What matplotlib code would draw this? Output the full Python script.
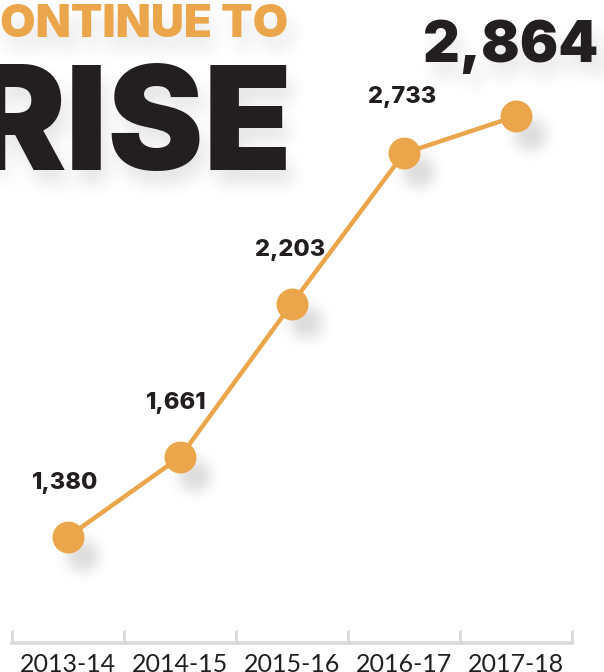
import numpy as np
import matplotlib
matplotlib.use("Agg")
import matplotlib.pyplot as plt

# Data
years = ["2013-14", "2014-15", "2015-16", "2016-17", "2017-18"]
counts = [1380, 1661, 2203, 2733, 2864]
value_labels = ["1,380", "1,661", "2,203", "2,733", "2,864"]

ORANGE = "#EBA64C"
INK = "#231F20"
GRID = "#D9D9D9"
HEAD = "Inter"
BODY = "Lato"

W, H = 604, 672
x = np.arange(len(years))


def new_canvas():
    fig = plt.figure(figsize=(W / 100, H / 100), dpi=100)
    fig.patch.set_facecolor("white")
    ax = fig.add_axes([12 / W, 29 / H, 560 / W, 643 / H])
    ax.set_xlim(-0.5, len(years) - 0.5)
    ax.set_ylim(1005, 3274)
    ax.set_facecolor("none")
    ax.axis("off")
    return fig, ax


def draw_markers(ax, color, line=True):
    ax.plot(x, counts, color=color, linewidth=3.2 if line else 0,
            linestyle="-" if line else "none", marker="o", markersize=23,
            markerfacecolor=color, markeredgecolor="none", zorder=3)


def draw_headline(fig, ax, color_main, color_accent):
    fig.text(0 / W, 1 - 37 / H, "ONTINUE TO", ha="left", va="baseline",
             fontsize=33, fontweight="black", family=HEAD, color=color_accent)
    fig.text(292 / W, 1 - 170 / H, "RISE", ha="right", va="baseline",
             fontsize=104, fontweight="black", family=HEAD, color=color_main)
    ax.annotate(value_labels[4], xy=(x[4], counts[4]), xytext=(-5, 54),
                textcoords="offset pixels", ha="center", va="baseline",
                fontsize=41, fontweight="black", family=HEAD, color=color_main,
                zorder=4, annotation_clip=False)


def blur(a, sigma):
    def kmat(n):
        i = np.arange(n)
        k = np.exp(-0.5 * ((i[:, None] - i[None, :]) / sigma) ** 2)
        return k / k.sum(axis=1, keepdims=True)
    return kmat(a.shape[0]) @ a @ kmat(a.shape[1]).T


def shift(a, dx, dy):
    out = np.zeros_like(a)
    out[dy:, dx:] = a[:a.shape[0] - dy, :a.shape[1] - dx]
    return out


def coverage(draw):
    fig, ax = new_canvas()
    draw(fig, ax)
    fig.canvas.draw()
    buf = np.asarray(fig.canvas.buffer_rgba())[:, :, 0].astype(float)
    plt.close(fig)
    return 1.0 - buf / 255.0


# Soft drop shadows under the markers and the large headline figures
mark_cov = coverage(lambda f, a: draw_markers(a, "black", line=False))
text_cov = coverage(lambda f, a: draw_headline(f, a, "black", "black"))
shadow = 0.15 * blur(shift(mark_cov, 14, 18), 7) + \
    0.10 * blur(shift(text_cov, 6, 14), 8)
shadow = np.clip(shadow, 0, 1)
shadow_img = np.zeros((H, W, 4))
shadow_img[..., 3] = shadow

# Main figure
fig, ax = new_canvas()
fig.figimage(shadow_img, xo=0, yo=0, origin="upper", zorder=-5)
draw_markers(ax, ORANGE)

offsets = [(-3, 54), (-4, 54), (-2, 54), (-2, 56)]
for i in range(4):
    ax.annotate(value_labels[i], xy=(x[i], counts[i]),
                xytext=offsets[i], textcoords="offset pixels",
                ha="center", va="center", fontsize=17, fontweight="heavy",
                family=HEAD, color=INK, zorder=4)
draw_headline(fig, ax, INK, ORANGE)

# Category axis: grey baseline with boundary ticks
ax.axis("on")
for side in ["left", "right", "top"]:
    ax.spines[side].set_visible(False)
ax.spines["bottom"].set_color(GRID)
ax.spines["bottom"].set_linewidth(2.6)
ax.set_yticks([])
ax.set_xticks(x)
ax.set_xticklabels(years, fontsize=18, family=BODY, color=INK)
ax.tick_params(axis="x", which="major", length=0, pad=7.5)
ax.set_xticks(np.arange(-0.5, len(years)), minor=True)
ax.tick_params(axis="x", which="minor", direction="in", length=9.5,
               width=2, color=GRID)

fig.savefig("out.png", dpi=100, facecolor="white")
